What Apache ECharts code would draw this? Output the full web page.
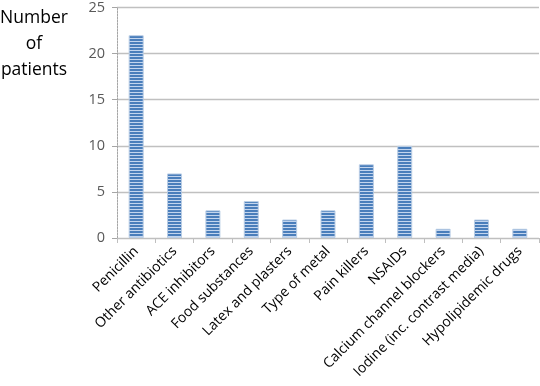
<!DOCTYPE html>
<html>
<head>
<meta charset="utf-8">
<script src="https://cdn.jsdelivr.net/npm/echarts@6/dist/echarts.min.js"></script>
<style>html,body{margin:0;padding:0;background:#fff;}#c{width:540px;height:386px;}</style>
</head>
<body>
<div id="c"></div>
<script>
const categories = ["Penicillin", "Other antibiotics", "ACE inhibitors", "Food substances", "Latex and plasters", "Type of metal", "Pain killers", "NSAIDs", "Calcium channel blockers", "Iodine (inc. contrast media)", "Hypolipidemic drugs"];
const patients = [22, 7, 3, 4, 2, 3, 8, 10, 1, 2, 1];
const yTicks = [0, 5, 10, 15, 20, 25];

const pc = document.createElement('canvas');
pc.width = 4; pc.height = 3;
const g = pc.getContext('2d');
g.fillStyle = '#4a7ebb'; g.fillRect(0, 0, 4, 2);
g.fillStyle = '#c3d5ee'; g.fillRect(0, 2, 4, 1);

const chart = echarts.init(document.getElementById('c'), null, {renderer: 'canvas'});
chart.setOption({
  animation: false,
  grid: {left: 117, right: 1, top: 6, bottom: 148},
  xAxis: {
    type: 'category',
    data: categories,
    axisLine: {lineStyle: {color: '#bfbfbf'}},
    axisTick: {show: true, length: 5, lineStyle: {color: '#bfbfbf'}},
    axisLabel: {rotate: 45, fontSize: 14, color: '#000', fontFamily: 'Open Sans', margin: 11, interval: 0}
  },
  yAxis: {
    type: 'value',
    min: yTicks[0], max: yTicks[yTicks.length - 1], interval: 5,
    axisLine: {show: true, lineStyle: {color: '#a6a6a6', type: [2, 1]}},
    axisTick: {show: true, length: 5, lineStyle: {color: '#a6a6a6'}},
    splitLine: {lineStyle: {color: '#c0c0c0', width: 1.3}},
    axisLabel: {fontSize: 14.5, color: '#595959', fontFamily: 'Open Sans', margin: 12}
  },
  graphic: [
    {type: 'text', x: 34, y: 18, style: {text: 'Number', fontSize: 17.5, fontFamily: 'Open Sans', fill: '#000', align: 'center', verticalAlign: 'middle'}},
    {type: 'text', x: 34, y: 44, style: {text: 'of', fontSize: 17.5, fontFamily: 'Open Sans', fill: '#000', align: 'center', verticalAlign: 'middle'}},
    {type: 'text', x: 34, y: 70, style: {text: 'patients', fontSize: 17.5, fontFamily: 'Open Sans', fill: '#000', align: 'center', verticalAlign: 'middle'}}
  ],
  series: [{
    type: 'bar',
    data: patients,
    barWidth: 15,
    itemStyle: {color: {image: pc, repeat: 'repeat'}, borderColor: '#b9cde5', borderWidth: 1}
  }]
});
</script>
</body>
</html>
